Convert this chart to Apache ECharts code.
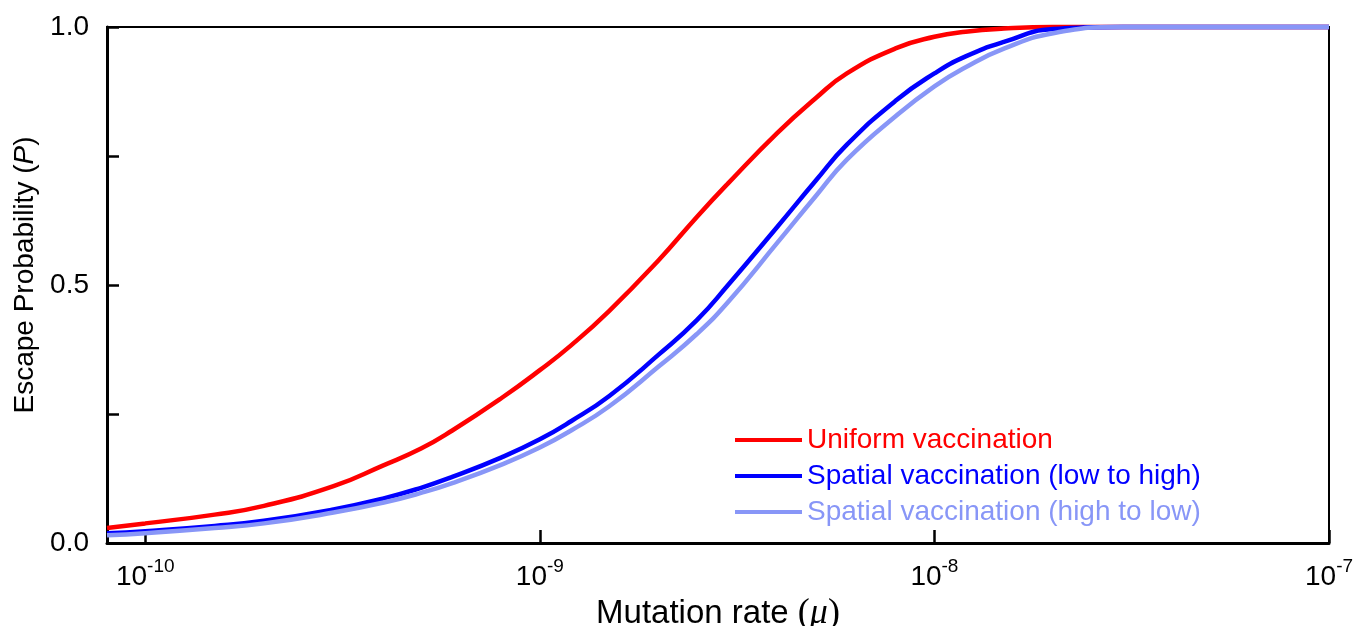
<!DOCTYPE html>
<html>
<head>
<meta charset="utf-8">
<script src="https://cdn.jsdelivr.net/npm/echarts@6/dist/echarts.min.js"></script>
<style>
  html, body { margin: 0; padding: 0; background: #fff; }
  #chart { width: 1370px; height: 626px; }
</style>
</head>
<body>
<div id="chart"></div>
<script>
var mutationRate = [8e-11, 1e-10, 1.5e-10, 2e-10, 3e-10, 4e-10, 5e-10, 6e-10, 8e-10,
    1e-9, 1.2e-9, 1.5e-9, 2e-9, 2.5e-9, 3e-9, 4e-9, 5e-9, 6e-9, 8e-9,
    1e-8, 1.2e-8, 1.5e-8, 2e-8, 3e-8, 5e-8, 1e-7];
var uniform = [0.029, 0.038, 0.055, 0.072, 0.110, 0.150, 0.183, 0.218, 0.281,
    0.335, 0.383, 0.450, 0.548, 0.632, 0.697, 0.795, 0.862, 0.910, 0.959,
    0.981, 0.991, 0.997, 1.0, 1.0, 1.0, 1.0];
var lowToHigh = [0.019, 0.023, 0.033, 0.043, 0.065, 0.086, 0.107, 0.128, 0.166,
    0.201, 0.236, 0.285, 0.365, 0.432, 0.500, 0.613, 0.702, 0.772, 0.858,
    0.910, 0.943, 0.971, 0.996, 1.0, 1.0, 1.0];
var highToLow = [0.015, 0.019, 0.029, 0.038, 0.059, 0.078, 0.097, 0.116, 0.152,
    0.185, 0.218, 0.265, 0.342, 0.405, 0.467, 0.582, 0.672, 0.743, 0.828,
    0.885, 0.922, 0.958, 0.988, 1.0, 1.0, 1.0];
var seriesNames = ['Uniform vaccination', 'Spatial vaccination (low to high)', 'Spatial vaccination (high to low)'];
var seriesColors = ['#ff0000', '#0000ff', '#8896f7'];

var font = 'Arial, "Liberation Sans", sans-serif';
var serif = '"Times New Roman", "Liberation Serif", serif';

function pairs(ys) {
    return mutationRate.map(function (x, i) { return [x, ys[i]]; });
}

function xfmt(value) {
    var e = Math.log10(value);
    if (Math.abs(e - Math.round(e)) > 1e-6) return '';
    return '{a|10}{s|' + Math.round(e) + '}';
}
function yfmt(value) {
    if (Math.abs(value * 2 - Math.round(value * 2)) > 1e-9) return '';
    return value.toFixed(1);
}

var lines = [uniform, lowToHigh, highToLow].map(function (ys, i) {
    return {
        name: seriesNames[i],
        type: 'line',
        data: pairs(ys),
        smooth: 0.5,
        symbol: 'none',
        clip: false,
        color: seriesColors[i],
        lineStyle: {color: seriesColors[i], width: 4.5}
    };
});

var chart = echarts.init(document.getElementById('chart'));
var opt = {
    animation: false,
    grid: {left: 107, right: 41, top: 27, bottom: 83, show: true, borderColor: '#000', borderWidth: 2, outerBoundsMode: 'none'},
    legend: {
        orient: 'vertical', left: 730, top: 421,
        icon: 'rect', itemWidth: 67, itemHeight: 4, itemGap: 8,
        textStyle: {fontSize: 28, fontFamily: font},
        data: seriesNames.map(function (n, i) { return {name: n, textStyle: {color: seriesColors[i]}}; })
    },
    xAxis: {
        type: 'log', logBase: 10, min: 8e-11, max: 1e-7,
        axisLine: {lineStyle: {color: '#000', width: 3}},
        axisTick: {inside: true, length: 13, lineStyle: {color: '#000', width: 2.5}},
        splitLine: {show: false},
        axisLabel: {
            formatter: xfmt, margin: 14, color: '#000',
            rich: {
                a: {fontSize: 28, fontFamily: font, color: '#000', lineHeight: 34, verticalAlign: 'bottom'},
                s: {fontSize: 19, fontFamily: font, color: '#000', verticalAlign: 'top', lineHeight: 34}
            }
        },
        name: 'Mutation rate {p|(}{m|μ}{p|)}',
        nameLocation: 'middle', nameGap: 44,
        nameTextStyle: {
            fontSize: 33, fontFamily: font, color: '#000',
            rich: {
                p: {fontSize: 36, fontFamily: serif, color: '#000'},
                m: {fontSize: 36, fontFamily: serif, fontStyle: 'italic', color: '#000'}
            }
        }
    },
    yAxis: {
        type: 'value', min: 0, max: 1, interval: 0.25,
        axisLine: {show: true, lineStyle: {color: '#000', width: 3}},
        axisTick: {show: true, inside: true, length: 12, lineStyle: {color: '#000', width: 2.5}},
        splitLine: {show: false},
        axisLabel: {formatter: yfmt, fontSize: 28, fontFamily: font, color: '#000', margin: 18},
        name: 'Escape Probability ({i|P})',
        nameLocation: 'middle', nameGap: 62,
        nameTextStyle: {
            fontSize: 28, fontFamily: font, color: '#000', padding: [0, 0, 0, 20],
            rich: {i: {fontSize: 28, fontFamily: font, fontStyle: 'italic', color: '#000'}}
        }
    },
    series: lines
};
chart.setOption(opt);
</script>
</body>
</html>
